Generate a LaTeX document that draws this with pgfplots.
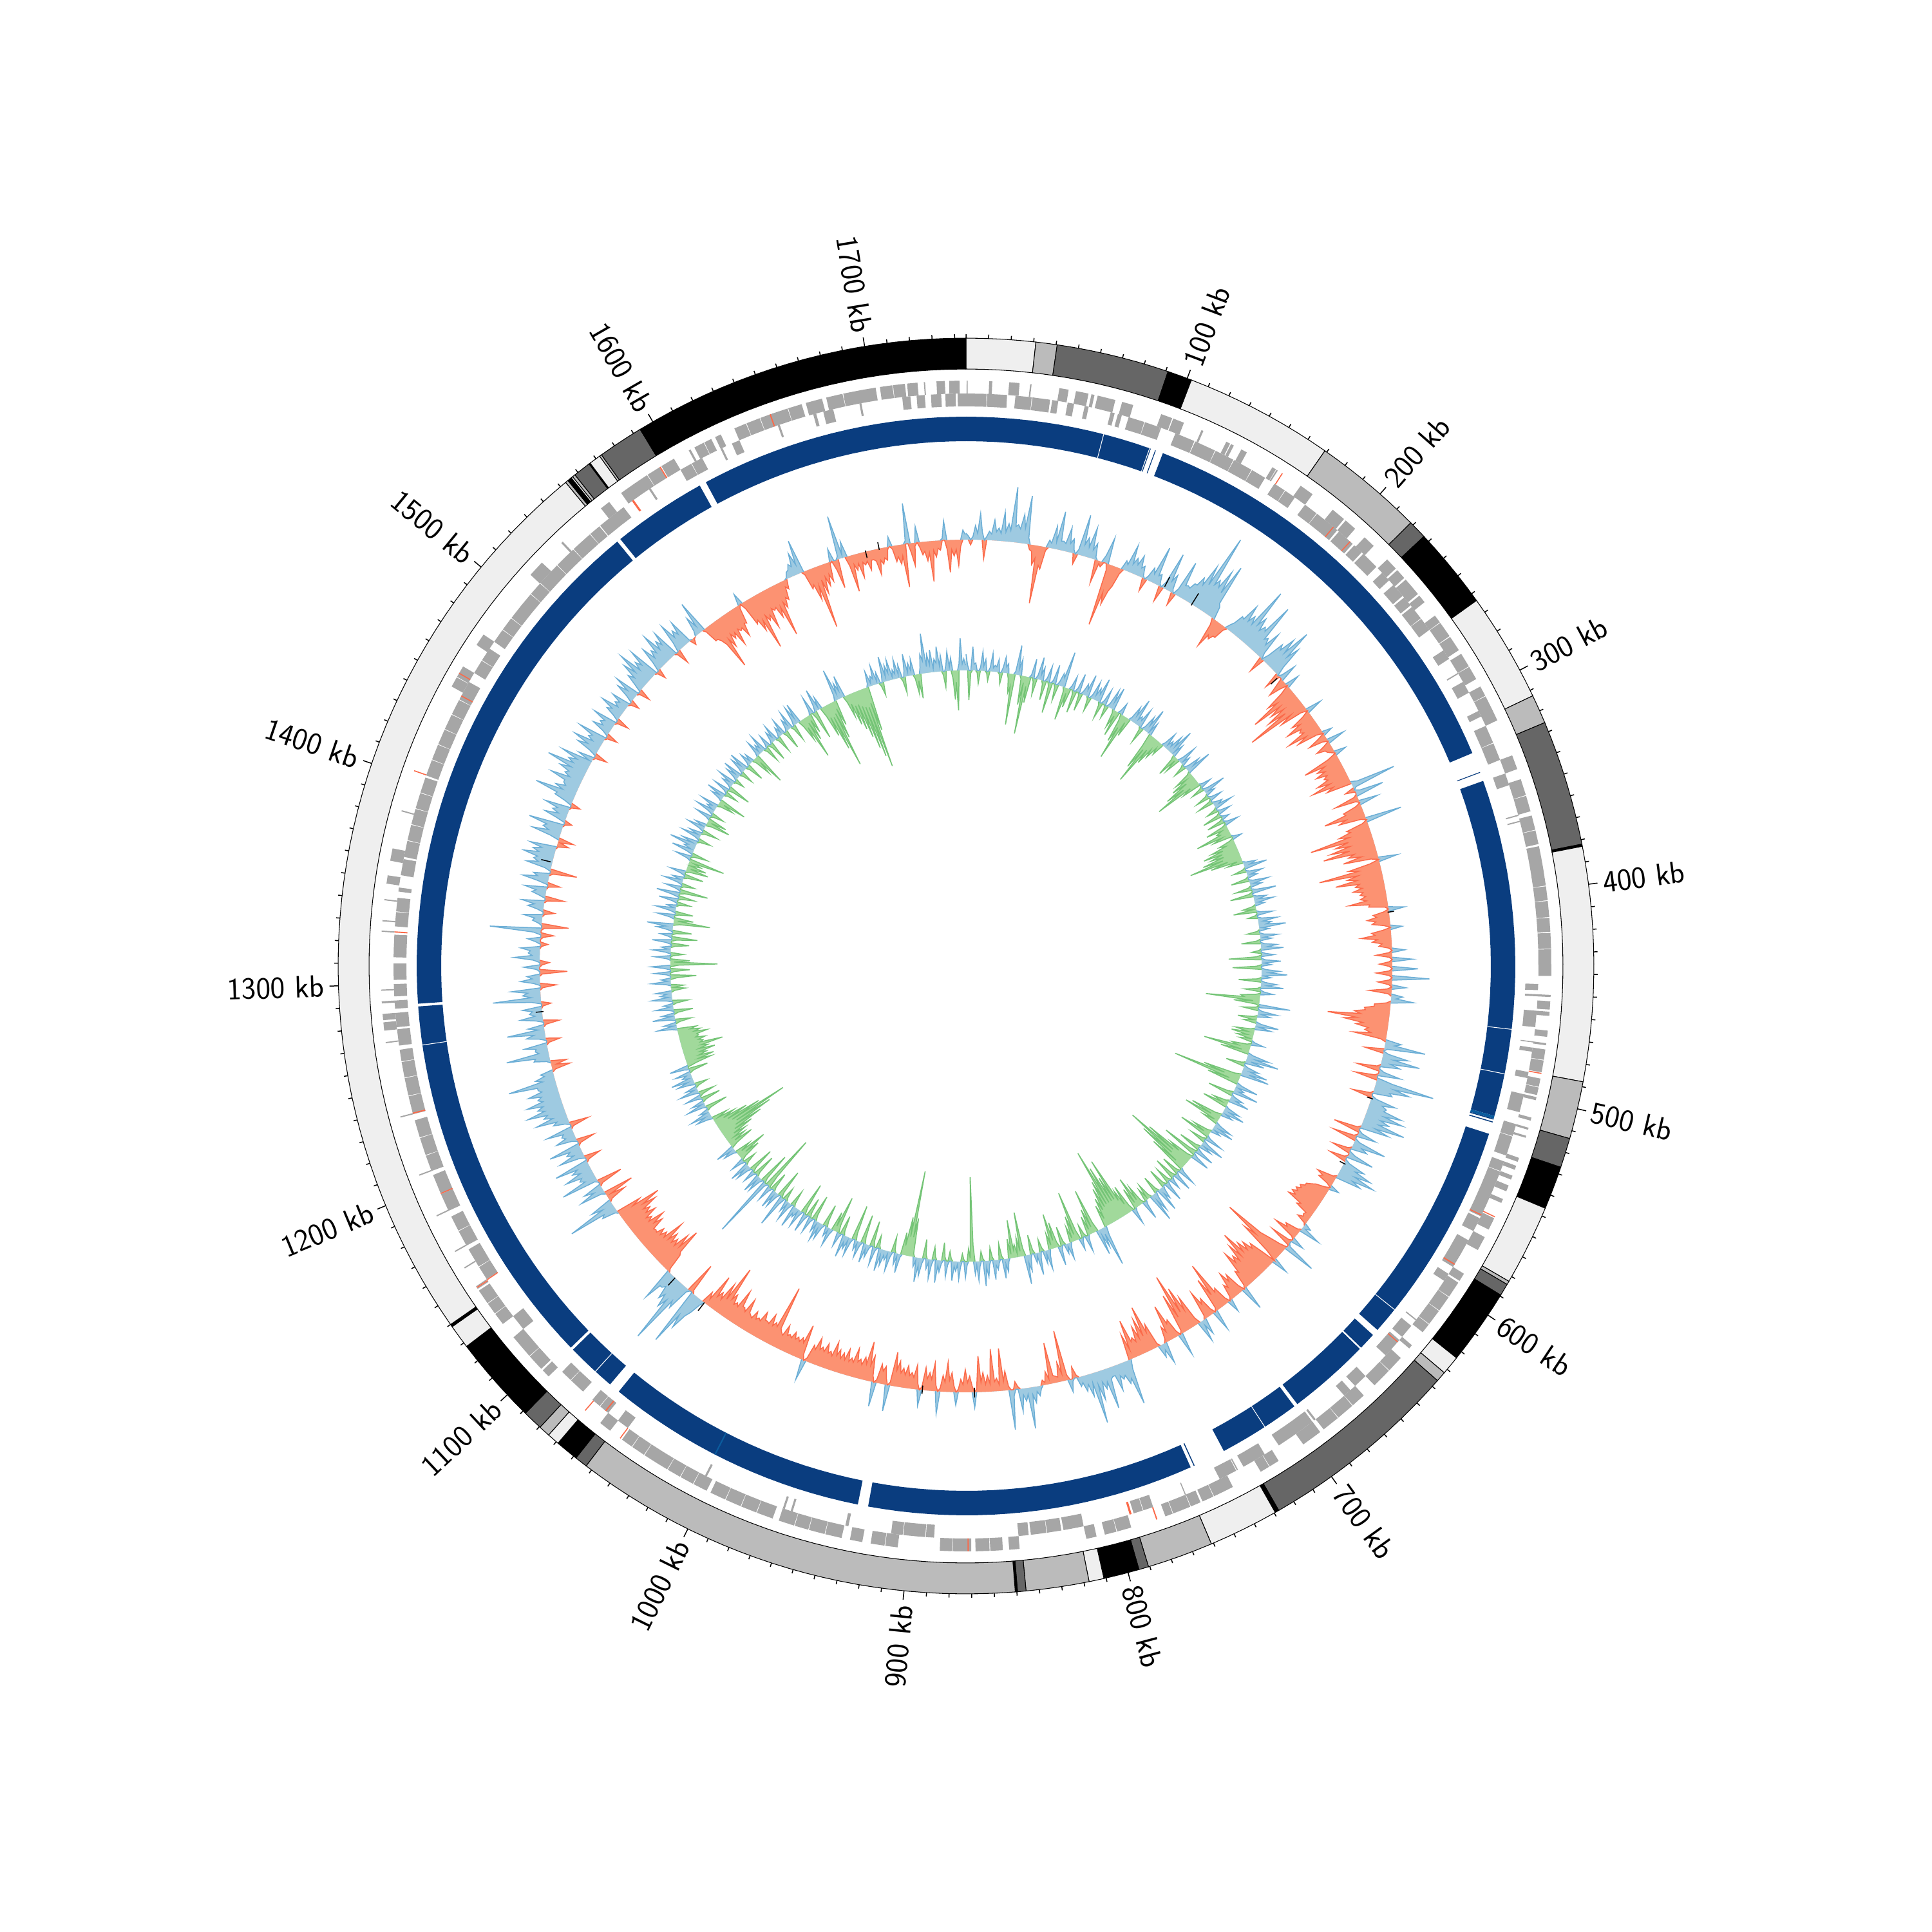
\documentclass[border=0pt]{standalone}
\usepackage{fontspec}
\usepackage{pgfplots}
\usepackage{pgfplotstable}
\pgfplotsset{compat=1.18}
\definecolor{ra}{HTML}{EFEFEF}
\definecolor{rb}{HTML}{BBBBBB}
\definecolor{rc}{HTML}{666666}
\definecolor{rd}{HTML}{000000}
\definecolor{navy}{HTML}{0A3D7F}
\definecolor{brite}{HTML}{0B5C9E}
\definecolor{gene}{HTML}{A6A6A6}
\definecolor{redg}{HTML}{FB6A4A}
\definecolor{bl}{HTML}{6BAED6}
\definecolor{blf}{HTML}{9ECAE1}
\definecolor{orl}{HTML}{FB6A4A}
\definecolor{orf}{HTML}{FC9272}
\definecolor{grl}{HTML}{74C476}
\definecolor{grf}{HTML}{A1D99B}
\def\kd{0.206304}
\newcommand\addpt[2]{\pgfmathsetmacro\xx{(#2)*sin((#1)*\kd)}\pgfmathsetmacro\yy{(#2)*cos((#1)*\kd)}\xdef\pts{\pts(\xx,\yy)}}
% band between radii #3 and #4 from kb #1 to kb #2
\newcommand\ringseg[5]{%
 \gdef\pts{}%
 \pgfmathtruncatemacro\nn{max(1,ceil((#2-#1)/8))}%
 \foreach \i in {0,...,\nn}{\pgfmathsetmacro\kk{#1+(#2-#1)/\nn*\i}\addpt{\kk}{#4}}%
 \foreach \i in {\nn,...,0}{\pgfmathsetmacro\kk{#1+(#2-#1)/\nn*\i}\addpt{\kk}{#3}}%
 \edef\doit{\noexpand\addplot[#5] coordinates {\pts} -- cycle;}\doit}
\newcommand\oring[3]{\ringseg{#1}{#2}{927}{975}{fill=#3,draw=black,line width=.35pt}}
\newcommand\bring[2]{\ringseg{#1}{#2}{815}{853}{fill=navy,draw=none}}
\newcommand\hair[1]{\ringseg{#1}{#1+.35}{815}{853}{fill=white,draw=none}}
% gene tiles on one strand
\newcommand\tiles[3]{%
 \gdef\pts{}%
 \foreach \s/\e in {#3}{\addpt{\s}{#1}\addpt{\e}{#1}\xdef\pts{\pts(nan,nan)}}%
 \edef\doit{\noexpand\addplot[#2,unbounded coords=jump] coordinates {\pts};}\doit}
\pgfplotstableread[row sep=crcr]{v\\
10\\6\\-8\\5\\22\\10\\41\\12\\-29\\6\\14\\10\\32\\14\\20\\12\\45\\15\\28\\18\\
86\\25\\28\\22\\45\\24\\75\\10\\-8\\-10\\-30\\-20\\-90\\-30\\-35\\-5\\12\\8\\35\\12\\
60\\14\\15\\12\\38\\14\\22\\6\\-16\\8\\64\\18\\30\\16\\48\\14\\25\\4\\-36\\-4\\
-8\\12\\41\\-10\\-98\\-45\\-62\\-40\\-30\\-8\\15\\10\\43\\14\\25\\16\\32\\14\\18\\4\\
-20\\6\\22\\14\\60\\14\\18\\4\\-24\\10\\60\\16\\28\\6\\-20\\10\\58\\20\\22\\20\\
30\\30\\45\\35\\70\\40\\125\\45\\55\\45\\75\\40\\89\\25\\20\\-10\\-47\\-25\\-30\\-22\\
-22\\-5\\8\\15\\30\\28\\55\\30\\42\\30\\95\\35\\50\\30\\40\\35\\84\\25\\30\\20\\
45\\10\\-25\\12\\38\\30\\55\\32\\76\\30\\50\\15\\-25\\5\\28\\-15\\-30\\-12\\22\\-15\\
-45\\-30\\-77\\-30\\-50\\-28\\-60\\-30\\-98\\-25\\-45\\-10\\25\\-12\\-35\\-22\\-48\\-25\\-30\\-25\\
-55\\-25\\-42\\-10\\15\\-12\\-30\\-8\\28\\-10\\-25\\-12\\-10\\-5\\18\\-15\\-58\\-25\\-40\\-28\\
-45\\-28\\-35\\-30\\-50\\-30\\-61\\-28\\-40\\10\\71\\5\\-15\\8\\45\\-5\\-38\\-5\\30\\-8\\
-30\\-28\\-64\\-30\\-42\\-8\\57\\-8\\-35\\-30\\-50\\-35\\-98\\-38\\-60\\-38\\-70\\-40\\-83\\-35\\
-45\\-25\\-55\\-12\\30\\-15\\-50\\-35\\-98\\-38\\-55\\-40\\-75\\-38\\-45\\-35\\-50\\-35\\-40\\-32\\
-41\\-32\\-60\\-28\\-30\\-5\\25\\-8\\-25\\-20\\-35\\-22\\-28\\-10\\18\\-12\\-30\\-25\\-47\\-22\\
-30\\-15\\-20\\-5\\20\\-5\\-25\\-5\\32\\-5\\-20\\-5\\40\\-5\\-25\\-5\\58\\-5\\-22\\-5\\
22\\-8\\-35\\-5\\18\\8\\35\\-6\\-25\\-25\\-40\\-38\\-55\\-45\\-96\\-50\\-70\\-40\\-50\\-30\\
-35\\-25\\-52\\-8\\25\\15\\64\\5\\-30\\8\\40\\18\\60\\15\\30\\-5\\-36\\8\\35\\-5\\
-36\\25\\92\\30\\55\\25\\30\\-4\\-32\\8\\40\\20\\28\\25\\55\\28\\60\\25\\40\\25\\
68\\22\\45\\-5\\-42\\6\\30\\-5\\-38\\8\\52\\15\\25\\-5\\-30\\10\\42\\-4\\-28\\8\\
35\\22\\50\\25\\59\\25\\40\\-5\\-31\\-20\\-25\\-8\\15\\-8\\-22\\-28\\-35\\-35\\-42\\-38\\
-45\\-40\\-48\\-40\\-50\\-25\\-30\\-10\\-12\\-10\\-18\\-3\\12\\5\\33\\-5\\-25\\-20\\-40\\-5\\
20\\-5\\-35\\4\\51\\-12\\-30\\-45\\-107\\-50\\-70\\-20\\25\\-25\\-45\\-38\\-55\\-42\\-60\\-45\\
-82\\-42\\-65\\-38\\-50\\-40\\-60\\-25\\-30\\-5\\38\\-10\\-35\\-25\\-42\\-18\\-25\\-5\\20\\-8\\
-30\\-25\\-78\\-25\\-55\\-5\\32\\-8\\-30\\-22\\-45\\-5\\25\\8\\33\\-10\\-50\\-30\\-70\\-30\\
-95\\-25\\-65\\-5\\35\\-8\\-30\\-25\\-57\\-15\\-25\\-5\\33\\10\\20\\-5\\-40\\-28\\-72\\-25\\
-55\\-25\\-45\\-22\\-30\\-25\\-61\\-15\\-40\\15\\71\\28\\35\\20\\25\\18\\40\\15\\15\\18\\
64\\20\\30\\18\\45\\20\\80\\15\\35\\15\\25\\10\\15\\-4\\-18\\4\\20\\-8\\-79\\-12\\
-30\\-8\\-10\\-12\\-64\\-8\\-20\\-4\\-8\\5\\15\\8\\25\\12\\64\\10\\20\\10\\35\\-4\\
-12\\10\\62\\-6\\-30\\-15\\-66\\-10\\-20\\-15\\-66\\-12\\-25\\-12\\-30\\-15\\-56\\-5\\24\\-10\\
-25\\-15\\-35\\-12\\-20\\-5\\20\\-10\\-30\\-18\\-46\\-15\\-25\\-5\\35\\-10\\-43\\-18\\-28\\-18\\
-35\\-5\\25\\-10\\-38\\-18\\-25\\-20\\-35\\-20\\-30\\-22\\-40\\-25\\-53\\-5\\41\\-10\\-28\\-20\\
-30\\-5\\38\\-10\\-40\\-25\\-61\\-25\\-35\\-22\\-30\\-25\\-45\\-22\\-28\\-22\\-40\\-22\\-32\\-22\\
-35\\-25\\-45\\-22\\-28\\-24\\-38\\-24\\-30\\-25\\-42\\-22\\-28\\-5\\32\\-8\\-55\\-25\\-32\\-24\\
-30\\-25\\-35\\-24\\-28\\-25\\-40\\-22\\-25\\-30\\-98\\-30\\-35\\-28\\-45\\-28\\-30\\-30\\-42\\-25\\
-28\\-24\\-35\\-22\\-25\\-28\\-48\\-25\\-30\\-30\\-55\\-25\\-30\\-25\\-40\\-30\\-83\\-25\\-50\\-20\\
-30\\-20\\-54\\-10\\-20\\8\\25\\35\\60\\40\\92\\-5\\-50\\5\\40\\30\\106\\35\\50\\30\\
40\\20\\25\\25\\52\\-5\\-30\\-35\\-73\\-40\\-60\\-35\\-45\\-35\\-50\\-35\\-65\\-32\\-40\\-30\\
-40\\-28\\-30\\-28\\-48\\-35\\-55\\-30\\-38\\-30\\-50\\-35\\-45\\-35\\-60\\-40\\-70\\-25\\-40\\5\\
25\\20\\78\\18\\35\\-5\\-30\\-8\\-47\\6\\40\\15\\30\\-5\\-40\\5\\59\\18\\25\\20\\
45\\18\\30\\20\\55\\-5\\-25\\10\\40\\15\\25\\18\\50\\-4\\-28\\8\\32\\15\\20\\16\\
42\\-4\\-30\\8\\25\\18\\50\\22\\35\\28\\59\\30\\40\\30\\55\\28\\35\\28\\48\\25\\
30\\30\\75\\20\\30\\15\\20\\-5\\-29\\-8\\-25\\6\\25\\22\\67\\15\\20\\18\\35\\-4\\
-22\\10\\30\\18\\59\\10\\25\\-4\\-25\\12\\35\\12\\20\\15\\30\\-2\\-15\\15\\75\\15\\
28\\20\\45\\-4\\-25\\10\\30\\12\\20\\-4\\-43\\5\\25\\-4\\-15\\10\\40\\12\\18\\15\\
30\\-2\\-12\\8\\20\\-4\\-20\\12\\80\\-5\\-42\\5\\15\\12\\30\\-3\\-18\\10\\25\\15\\
35\\-4\\-30\\10\\22\\16\\35\\-2\\-20\\16\\41\\18\\25\\-5\\-42\\10\\40\\22\\30\\25\\
48\\25\\35\\22\\42\\-2\\-18\\-4\\-24\\15\\45\\20\\30\\25\\55\\-2\\-12\\15\\35\\14\\
25\\18\\40\\-2\\-15\\12\\30\\28\\65\\22\\35\\20\\25\\25\\50\\20\\30\\25\\42\\25\\
66\\25\\35\\22\\50\\5\\25\\-3\\-20\\12\\35\\20\\45\\15\\25\\20\\45\\-3\\-18\\10\\
30\\15\\22\\16\\38\\-3\\-20\\10\\25\\18\\39\\12\\20\\14\\30\\-3\\-15\\12\\32\\16\\
40\\-3\\-19\\14\\30\\20\\45\\25\\58\\22\\35\\25\\50\\-3\\-15\\15\\40\\18\\30\\22\\
52\\22\\35\\25\\45\\-3\\-22\\15\\46\\20\\30\\20\\40\\2\\-10\\-2\\0\\8\\30\\12\\
52\\-5\\-25\\-25\\-30\\-40\\-82\\-35\\-50\\-30\\-40\\-32\\-55\\-30\\-35\\-32\\-48\\-28\\-30\\-5\\
18\\-10\\-40\\-35\\-55\\-40\\-88\\-35\\-45\\-38\\-60\\-30\\-35\\-32\\-50\\-35\\-83\\-30\\-40\\-25\\
-30\\-10\\-15\\2\\10\\12\\20\\15\\35\\15\\53\\-5\\-30\\-25\\-50\\-30\\-98\\-22\\-45\\-20\\
-35\\-18\\-30\\-3\\20\\-15\\-45\\5\\68\\5\\25\\-15\\-57\\-15\\-25\\-15\\-38\\-15\\-20\\-15\\
-30\\-15\\-15\\-18\\-40\\-18\\-25\\-16\\-20\\-3\\15\\-5\\-25\\-18\\-30\\-18\\-67\\5\\63\\-15\\
-35\\-5\\25\\-8\\-20\\-15\\-30\\-18\\-63\\-15\\-25\\-12\\-15\\3\\30\\-15\\-50\\-15\\-25\\-15\\
-40\\-10\\15\\8\\
}\trackone
\pgfplotstableread[row sep=crcr]{v\\
25\\8\\-46\\-4\\37\\10\\12\\-3\\-20\\5\\30\\8\\18\\-3\\-15\\6\\28\\6\\10\\8\\
20\\-3\\-18\\8\\25\\10\\15\\-8\\-30\\-20\\-79\\5\\46\\10\\25\\-5\\-45\\-10\\-90\\-15\\
-40\\4\\30\\-6\\-25\\6\\35\\8\\20\\-6\\-30\\6\\25\\-6\\-48\\5\\30\\-5\\-25\\6\\
20\\14\\56\\-6\\-52\\-8\\-30\\6\\22\\-5\\-35\\6\\30\\-4\\-28\\6\\18\\10\\35\\-4\\
-22\\6\\28\\8\\20\\12\\38\\-4\\-25\\6\\25\\-4\\-20\\6\\30\\12\\36\\-5\\-28\\-8\\
-40\\5\\18\\-10\\-45\\-20\\-72\\-8\\-30\\5\\25\\12\\41\\8\\15\\10\\30\\-4\\-25\\5\\
25\\12\\41\\4\\20\\-20\\-60\\-25\\-83\\-22\\-45\\-18\\-30\\-10\\-20\\6\\25\\6\\15\\8\\
28\\12\\43\\6\\20\\-8\\-35\\-5\\-25\\8\\30\\5\\15\\-5\\-20\\6\\25\\12\\41\\-5\\
-30\\-12\\-40\\-15\\-55\\-25\\-75\\-15\\-30\\4\\18\\-4\\-20\\8\\36\\6\\15\\-4\\-22\\5\\
20\\-4\\-25\\5\\15\\8\\29\\-4\\-18\\5\\20\\-5\\-30\\3\\12\\-5\\-28\\5\\22\\-6\\
-35\\-10\\-20\\-15\\-56\\-15\\-30\\3\\15\\-6\\-25\\-15\\-40\\-22\\-55\\-25\\-45\\-25\\-60\\-28\\
-83\\-22\\-50\\-8\\-25\\5\\20\\10\\36\\-4\\-20\\6\\25\\6\\15\\-4\\-28\\6\\30\\6\\
18\\-4\\-25\\8\\38\\-6\\-36\\5\\20\\8\\30\\6\\15\\-4\\-20\\-6\\-36\\5\\25\\-3\\
-15\\6\\30\\8\\20\\12\\42\\5\\15\\-4\\-20\\6\\28\\6\\18\\-6\\-30\\6\\25\\10\\
35\\-3\\-15\\6\\20\\-8\\-51\\6\\30\\4\\15\\-8\\-45\\6\\28\\12\\40\\4\\15\\-6\\
-35\\6\\25\\10\\35\\-5\\-25\\6\\20\\-8\\-30\\-25\\-84\\-10\\-40\\-5\\49\\-5\\-25\\6\\
30\\6\\20\\-6\\-30\\-5\\-20\\8\\36\\6\\25\\-6\\-30\\-10\\-35\\-10\\-25\\-5\\-20\\5\\
20\\-6\\-30\\-20\\-73\\-12\\-45\\8\\35\\14\\51\\8\\30\\-6\\-30\\6\\25\\12\\40\\12\\
45\\-10\\-60\\-25\\-107\\-15\\-50\\8\\35\\5\\15\\8\\40\\-8\\-40\\5\\20\\10\\32\\-5\\
-25\\-10\\-40\\5\\25\\10\\35\\6\\18\\-10\\-50\\-15\\-59\\-6\\-25\\8\\28\\10\\34\\5\\
15\\-6\\-30\\-10\\-50\\6\\28\\-5\\-25\\10\\37\\6\\20\\-8\\-35\\8\\30\\-12\\-57\\8\\
30\\-8\\-40\\-22\\-80\\-30\\-112\\-28\\-85\\-15\\-60\\6\\28\\-6\\-30\\6\\30\\-8\\-35\\5\\
18\\-5\\-25\\8\\32\\-6\\-30\\6\\20\\10\\38\\-6\\-28\\8\\30\\12\\45\\-5\\-25\\-5\\
-20\\6\\30\\-6\\-32\\-10\\-50\\-8\\-34\\6\\25\\-10\\-45\\-15\\-40\\-25\\-98\\-30\\-70\\-30\\
-90\\-30\\-120\\-30\\-70\\-28\\-60\\-25\\-45\\-12\\-35\\14\\63\\10\\30\\10\\40\\-15\\-70\\-10\\
-40\\-8\\-30\\5\\25\\-5\\-20\\5\\18\\-15\\-78\\-10\\-40\\-6\\-25\\6\\25\\5\\15\\-6\\
-30\\6\\30\\-8\\-40\\-12\\-55\\-6\\-25\\8\\30\\6\\20\\-5\\-20\\10\\35\\5\\15\\-6\\
-30\\6\\25\\12\\45\\-12\\-69\\-8\\-30\\-5\\-20\\-12\\-59\\-6\\-30\\5\\20\\8\\30\\-5\\
-25\\5\\15\\8\\30\\-5\\-20\\6\\25\\10\\39\\-4\\-15\\8\\30\\6\\20\\-25\\-131\\-5\\
-20\\6\\25\\-3\\-12\\8\\28\\5\\15\\8\\30\\-4\\-15\\6\\25\\-6\\-28\\5\\18\\8\\
35\\-5\\-20\\8\\30\\5\\15\\-6\\-30\\8\\28\\12\\38\\5\\15\\-5\\-60\\-30\\-134\\-30\\
-60\\-15\\-35\\5\\30\\5\\18\\-5\\-25\\8\\30\\5\\15\\8\\25\\10\\35\\-5\\-20\\6\\
28\\-8\\-40\\5\\20\\8\\30\\-10\\-45\\6\\25\\5\\15\\-10\\-55\\6\\28\\6\\20\\10\\
35\\-6\\-30\\6\\22\\-12\\-57\\-8\\-30\\8\\28\\5\\15\\-8\\-35\\6\\25\\10\\30\\6\\
18\\-8\\-40\\6\\25\\-6\\-30\\8\\30\\-10\\-50\\8\\28\\5\\15\\10\\35\\-5\\-25\\8\\
30\\6\\18\\-5\\-20\\12\\51\\-8\\-45\\6\\25\\8\\30\\-6\\-30\\6\\25\\-20\\-89\\5\\
98\\-8\\-50\\6\\25\\8\\30\\-6\\-35\\5\\20\\-8\\-40\\6\\25\\10\\32\\-5\\-20\\6\\
22\\-8\\-35\\-12\\-50\\-8\\-25\\5\\20\\8\\30\\-10\\-40\\-10\\-30\\-12\\-35\\-15\\-50\\-20\\
-70\\-25\\-90\\-30\\-118\\-25\\-75\\-20\\-55\\-15\\-35\\-8\\-25\\8\\25\\10\\32\\5\\15\\-6\\
-35\\6\\30\\5\\20\\-6\\-30\\6\\25\\-6\\-25\\8\\30\\6\\18\\-5\\-20\\8\\27\\10\\
35\\6\\15\\8\\25\\-6\\-30\\8\\30\\-15\\-40\\-20\\-45\\-22\\-35\\-25\\-50\\-25\\-40\\-30\\
-65\\-30\\-35\\-28\\-40\\-25\\-30\\-28\\-45\\-25\\-35\\-20\\-30\\8\\30\\5\\20\\-6\\-25\\8\\
35\\6\\20\\-6\\-30\\8\\28\\5\\15\\-6\\-25\\10\\32\\6\\18\\8\\25\\-5\\-22\\-4\\
-20\\8\\30\\5\\15\\-10\\-40\\6\\25\\-6\\-30\\10\\30\\-12\\-73\\-6\\-30\\6\\25\\-4\\
-20\\8\\28\\5\\15\\-6\\-28\\8\\30\\-8\\-40\\6\\18\\-6\\-30\\8\\25\\12\\41\\-10\\
-57\\-6\\-30\\8\\28\\-6\\-28\\10\\32\\5\\15\\-4\\-20\\8\\30\\-5\\-25\\12\\36\\-8\\
-44\\8\\25\\-4\\-20\\8\\30\\6\\18\\-6\\-30\\8\\25\\-6\\-35\\-6\\-30\\-4\\-20\\-8\\
-56\\6\\25\\-5\\-25\\10\\35\\6\\18\\12\\43\\8\\25\\-4\\-20\\8\\30\\6\\20\\-5\\
-25\\8\\28\\5\\18\\-8\\-38\\-6\\-30\\6\\25\\-4\\-20\\8\\30\\5\\15\\8\\28\\-5\\
-25\\-8\\-44\\5\\20\\8\\30\\-4\\-20\\6\\25\\-8\\-36\\5\\18\\8\\28\\-3\\-15\\6\\
22\\8\\30\\-4\\-20\\8\\25\\10\\31\\-6\\-28\\5\\20\\5\\15\\-6\\-30\\-10\\-51\\6\\
25\\5\\15\\8\\28\\-5\\-25\\6\\20\\-6\\-30\\5\\18\\8\\26\\-5\\-25\\5\\15\\6\\
25\\-6\\-30\\5\\18\\8\\28\\-5\\-25\\8\\30\\10\\32\\-10\\-35\\-15\\-68\\-10\\-40\\-8\\
-30\\6\\28\\-10\\-45\\10\\35\\5\\20\\-15\\-50\\-20\\-75\\-22\\-105\\-18\\-60\\-12\\-40\\8\\
50\\10\\25\\12\\35\\-10\\-35\\-15\\-50\\-20\\-60\\-20\\-75\\-25\\-95\\-28\\-110\\-30\\-128\\-25\\
-70\\5\\24\\5\\15\\10\\30\\5\\18\\-5\\-20\\12\\40\\8\\25\\12\\32\\5\\15\\8\\
30\\6\\20\\-6\\-25\\10\\35\\6\\20\\8\\25\\-6\\-30\\-10\\-38\\10\\30\\20\\62\\10\\
28\\12\\35\\6\\20\\14\\39\\8\\25\\-6\\-25\\10\\30\\6\\20\\-12\\-45\\-18\\-62\\10\\
50\\10\\18\\8\\
}\tracktwo
\newcommand\mkcols[1]{%
 \pgfplotstablecreatecol[create col/assign/.code={\getthisrow{v}\va\getprevrow{v}\vb\getnextrow{v}\vc
   \ifx\vb\empty\def\vb{0}\fi\ifx\vc\empty\def\vc{0}\fi
   \pgfmathparse{(\va>0||\vb>0||\vc>0)?max(\va,0):9999}\pgfkeyslet{/pgfplots/table/create col/next content}\pgfmathresult}]{pos}{#1}%
 \pgfplotstablecreatecol[create col/assign/.code={\getthisrow{v}\va\getprevrow{v}\vb\getnextrow{v}\vc
   \ifx\vb\empty\def\vb{0}\fi\ifx\vc\empty\def\vc{0}\fi
   \pgfmathparse{(\va<0||\vb<0||\vc<0)?min(\va,0):9999}\pgfkeyslet{/pgfplots/table/create col/next content}\pgfmathresult}]{neg}{#1}}
\mkcols{\trackone}
\mkcols{\tracktwo}
% table, baseline, colours
\newcommand\track[6]{%
 \addplot[fill=#4,draw=none] table[x expr={(#2+max(\thisrow{v},0))*sin(\coordindex*1.5*\kd)},y expr={(#2+max(\thisrow{v},0))*cos(\coordindex*1.5*\kd)}]{#1} -- cycle;
 \addplot[fill=#6,draw=none] table[x expr={#2*sin(\coordindex*1.5*\kd)},y expr={#2*cos(\coordindex*1.5*\kd)}]{#1} -- cycle;
 \addplot[fill=white,draw=none] table[x expr={(#2+min(\thisrow{v},0))*sin(\coordindex*1.5*\kd)},y expr={(#2+min(\thisrow{v},0))*cos(\coordindex*1.5*\kd)}]{#1} -- cycle;
 \addplot[draw=#3,line width=.5pt,unbounded coords=jump] table[x expr={\thisrow{pos}>5000?nan:(#2+\thisrow{pos})*sin(\coordindex*1.5*\kd)},y expr={(#2+\thisrow{pos})*cos(\coordindex*1.5*\kd)}]{#1};
 \addplot[draw=#5,line width=.5pt,unbounded coords=jump] table[x expr={\thisrow{neg}>5000?nan:(#2+\thisrow{neg})*sin(\coordindex*1.5*\kd)},y expr={(#2+\thisrow{neg})*cos(\coordindex*1.5*\kd)}]{#1};
}
\begin{document}
\begin{tikzpicture}
\begin{axis}[at={(0pt,0pt)},anchor=south west,width=1000pt,height=1000pt,scale only axis,
  xmin=-1500,xmax=1500,ymin=-1500,ymax=1500,hide axis,clip=false,no markers]
% outer ring
\oring{0}{31}{ra}\oring{31}{40.5}{rb}\oring{40.5}{91}{rc}\oring{91}{102}{rd}
\oring{102}{169}{ra}\oring{169}{218.6}{rb}\oring{218.6}{227}{rc}\oring{227}{263.7}{rd}
\oring{263.7}{312.7}{ra}\oring{312.7}{325.7}{rb}\oring{325.7}{382}{rc}\oring{382}{383}{rd}
\oring{383}{487.8}{ra}\oring{487.8}{513.6}{rb}\oring{513.6}{526.9}{rc}\oring{526.9}{546.3}{rd}
\oring{546.3}{582.4}{ra}\oring{582.4}{584}{rb}\oring{584}{589.5}{rc}\oring{589.5}{623.5}{rd}
\oring{623.5}{632}{ra}\oring{632}{636.6}{rb}\oring{636.6}{727.7}{rc}\oring{727.7}{729.5}{rd}
\oring{729.5}{761}{ra}\oring{761}{790.6}{rb}\oring{790.6}{795}{rc}\oring{795}{811}{rd}
\oring{811}{817.7}{ra}\oring{817.7}{845.9}{rb}\oring{845.9}{849.7}{rc}\oring{849.7}{850.7}{rd}
\oring{850.7}{1053}{rb}\oring{1053}{1058.7}{rc}\oring{1058.7}{1069}{rd}\oring{1069}{1074.5}{ra}
\oring{1074.5}{1079.6}{rb}\oring{1079.6}{1088.6}{rc}\oring{1088.6}{1128}{rd}\oring{1128}{1138.8}{ra}
\oring{1138.8}{1140}{rd}\oring{1140}{1553}{ra}\oring{1553}{1554.3}{rb}\oring{1554.3}{1556.2}{rd}
\oring{1556.2}{1557}{ra}\oring{1557}{1558.3}{rb}\oring{1558.3}{1566.2}{rc}\oring{1566.2}{1566.8}{rd}
\oring{1566.8}{1572}{ra}\oring{1572}{1573}{rb}\oring{1573}{1593.5}{rc}
\oring{1593.5}{1745}{rd}
% ticks
\gdef\pts{}
\foreach \k in {0,10,...,1740}{%
 \pgfmathtruncatemacro\mj{(mod(\k,100)==0 && \k>0) ? 989 : 981}%
 \addpt{\k}{975}\addpt{\k}{\mj}\xdef\pts{\pts(nan,nan)}}
\edef\doit{\noexpand\addplot[black,line width=.5pt,unbounded coords=jump] coordinates {\pts};}\doit
% genes
\tiles{899}{gene,line width=6.667pt}{0.3/0.8,11/12.5,20.5/25.5,30.5/31.2,44.5/49,52.5/58.6,60/61.5,63/71.7,75/80.5,94.4/100,100.5/106,115/116,128/130,130.5/132,136/139,153/155,155.3/156,169/176,188/195,196/202,208/214,223/229,230/235,236/240,240/245,246/250,258/262,262.3/270,270.4/278,280/287,287.3/294,298/303,303.3/309,309/316,334/341,346/354,354.3/362,364/371,371.3/378,379/384,384/390,390/398,398.3/405,405.3/413,413.3/420,420.5/428,428.3/441,450/451,453/457,458/460,467/470,473/474,476/481,481.3/487,490/494,494.3/498,499/500.5,509/510.5,514/515,518/519,529/531,533/535,538/540,543/546,550/552,560/566,570/577,590/594,595/603,603.3/611,611.3/619,619.3/624,632/634,640/648,648.3/655,655/658,665/672,672.3/681,681.3/690,692/697,695/702,716/721,721.3/726,741/747,745/751,751.3/757,758/763,763.3/768,768/772,772.3/776,793/800,800.3/806,810/815,847/852,855/861,861.3/868,870/875,873/879,879.3/885,905/911,911.3/918,922/928,932/940,940.3/948,948.3/955,955.3/963,966/974,974.3/982,982.3/990,990.3/998,1000/1007,1007.3/1014,1014.3/1021,1021.3/1027,1027/1034,1034.3/1041,1041.3/1047,1054/1060,1093/1097,1098/1100,1100/1106,1106.3/1118,1126/1132,1132.3/1138,1138.3/1145,1145/1145.5,1146.5/1147,1147.5/1148,1158/1158.6,1167/1167.6,1186/1186.6,1207/1207.6,1236/1236.6,1272/1272.6,1278/1282,1283/1286,1291/1292,1297/1297.6,1325/1325.6,1330/1330.6,1340/1340.6,1348/1352,1359/1365,1383/1383.6,1447/1452,1452.3/1458,1470/1476,1512/1520,1533/1534,1558/1563,1570/1578,1578/1585,1585.3/1592,1593/1600,1608/1609,1611/1616,1616.3/1620,1622/1625,1632/1638,1638.3/1645,1645.3/1650,1650/1652,1652/1659,1659.3/1666,1668/1676,1678/1686,1686.3/1695,1695/1702,1704/1710,1710.3/1716,1717/1722,1725/1725.6,1731/1735,1737/1742}
\tiles{879}{gene,line width=6.667pt}{0/10,10.3/20,24/32,32.3/41,42/45,49.6/52.8,58/60,71/73,74.6/76.6,80/88,88.3/96,96.1/96.6,104/114,114.4/125,125.3/135,135.3/145,145.3/152.7,158/164,164.3/170,176/183,183.3/190,190/196,197/206,207/212,213/222,226/231,234/241,242/247,248/255,255.3/262,274/279,287/287.6,292/298,308/311,316/325,325.3/334,341/347,362/362.6,365/365.6,445/448,450/451,458/462,462/464,464/466,473/473.5,476/478,488/491,499/506,506/508,514/520,520.3/528,528/530,533/538,538.3/543,543/548,548/556,556/562,563/570,575/583,583/590,594/598,621/621.6,625/632,634/640,640/644,658/665,668/672,690/691,692/700,700/705,705/712,720/728,728/732,735/735.6,736/745,763/763.5,780/785,785.3/790,815/822,818/825,826/833,833.3/841,842/847,888/892,892.3/897,897/903,903.3/909,930/931.5,958/959,962/963,1003/1004,1048/1054,1060/1065,1065.3/1070,1076/1078,1078/1084,1084.3/1090,1118/1126,1148/1155,1155.3/1165,1167/1175,1175.3/1183,1186/1195,1195.3/1205,1207/1215,1215.3/1224,1224.3/1233,1236/1245,1245.3/1254,1254.3/1262,1262.3/1268,1270/1278,1279/1286,1288/1292,1294/1300,1302/1310,1313/1318,1318/1324,1328/1335,1335.3/1342,1345/1347,1353/1361,1362/1370,1370.3/1378,1378.3/1386,1386.3/1394,1394.3/1402,1403/1411,1411.3/1419,1419.3/1427,1427.3/1435,1435.3/1443,1443.3/1453,1458/1465,1465.3/1472,1476/1483,1483.3/1490,1490.3/1498,1498/1505,1505.3/1512,1512.3/1520,1518/1524,1524.3/1530,1530/1535,1535.3/1540,1540/1546,1546.3/1552,1552.5/1561,1561/1567,1582/1583,1600/1601,1600/1606,1606.3/1612,1622/1623,1628/1632,1652/1653,1670/1671.5,1675/1680,1693/1694,1714/1718,1721/1725,1728/1733,1735/1740,1741/1745}
\tiles{899}{redg,line width=6.667pt}{158.3/158.8,487.3/487.8,559/559.5,780/780.6,871.2/871.8,1047.8/1048.3,1069/1069.5,1147/1147.5,1403/1403.5,1454/1454.5,1592/1592.6,1650/1650.6}
\tiles{879}{redg,line width=6.667pt}{193.3/193.8,204/204.5,561/561.5,588.2/588.8,635/635.5,791/792,1061.3/1061.9,1147.5/1148,1195/1195.5,1236.2/1236.8,1325/1325.6,1445/1445.5,1572/1573}
% blue ring
\bring{0}{95.3}\bring{97.6}{98}\bring{101.8}{325.7}\bring{336}{336.4}\bring{340.8}{513}
\ringseg{513}{514.5}{815}{853}{fill=brite,draw=none}
\bring{514.5}{515}\bring{516}{516.5}\bring{522.5}{637.4}\bring{640.8}{649.6}\bring{650.5}{692.7}\bring{694.6}{736.8}
\bring{753.3}{753.8}\bring{755.5}{922.3}\bring{927.6}{1062.6}\bring{1068.3}{1094}\bring{1095.5}{1288.3}
\bring{1289.7}{1554}\bring{1556}{1604.5}\bring{1608}{1745}
\hair{70.2}\hair{94.5}\hair{468.2}\hair{491}\hair{623.8}\hair{712.6}\hair{1078}\hair{1268.5}
\ringseg{1004}{1004.7}{815}{853}{fill=brite,draw=none}
% data tracks
\track{\trackone}{662}{bl}{blf}{orl}{orf}
\track{\tracktwo}{459}{bl}{blf}{grl}{grf}
% small black marks on the outer data track
\gdef\pts{}
\foreach \k/\ra/\rb in {134/665/682,155/660/682,229/645/658,401/660/670,524/655/665,570/655/665,867/655/670,901/655/668,1056/662/678,1081/662/678,1279/660/672,1377/665/680,1679/652/664,1688/660/672}{%
 \addpt{\k}{\ra}\addpt{\k}{\rb}\xdef\pts{\pts(nan,nan)}}
\edef\doit{\noexpand\addplot[black,line width=.5pt,unbounded coords=jump] coordinates {\pts};}\doit
% labels
\pgfplotsextra{%
 \foreach \k in {100,200,...,1700}{%
  \pgfmathsetmacro\t{\k*\kd}\pgfmathsetmacro\xx{997*sin(\t)}\pgfmathsetmacro\yy{997*cos(\t)}%
  \ifnum\k<850
   \pgfmathsetmacro\rr{90-\t}\node[rotate=\rr,anchor=west,inner sep=0pt,font=\sffamily\fontsize{16}{18}\selectfont] at (axis cs:\xx,\yy) {\k\ kb};
  \else
   \pgfmathsetmacro\rr{270-\t}\node[rotate=\rr,anchor=east,inner sep=0pt,font=\sffamily\fontsize{16}{18}\selectfont] at (axis cs:\xx,\yy) {\k\ kb};
  \fi}}
\end{axis}
\path[use as bounding box] (0pt,0pt) rectangle (1000pt,1000pt);
\end{tikzpicture}
\end{document}
